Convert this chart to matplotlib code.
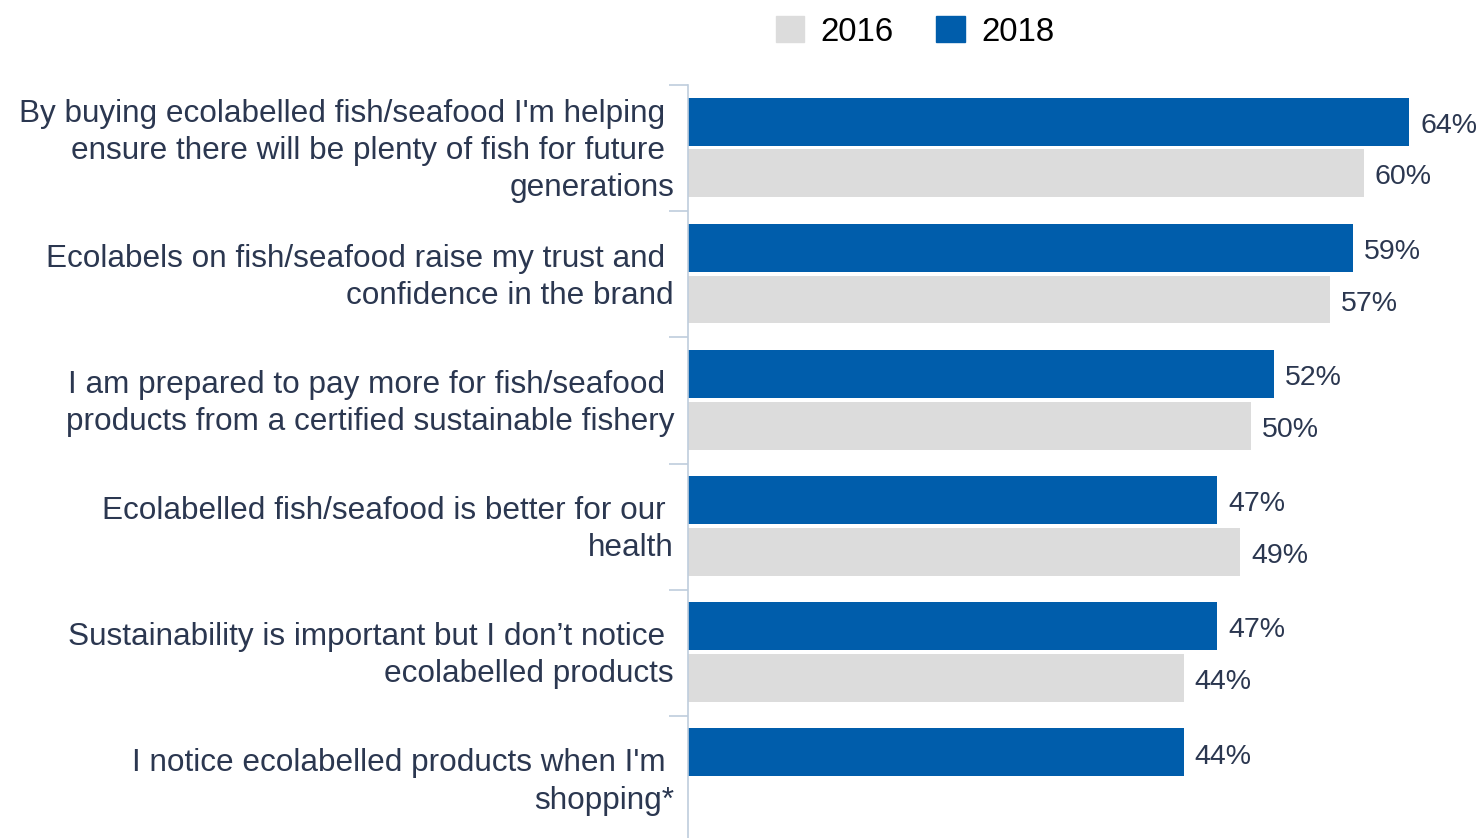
import numpy as np
import matplotlib.pyplot as plt
import matplotlib.transforms as mtransforms
from matplotlib.patches import Patch

# statements and survey shares (%), top to bottom
statements = [
    "By buying ecolabelled fish/seafood I'm helping \nensure there will be plenty of fish for future \ngenerations",
    "Ecolabels on fish/seafood raise my trust and \nconfidence in the brand",
    "I am prepared to pay more for fish/seafood \nproducts from a certified sustainable fishery",
    "Ecolabelled fish/seafood is better for our \nhealth",
    "Sustainability is important but I don\u2019t notice \necolabelled products",
    "I notice ecolabelled products when I'm \nshopping*",
]
share_2018 = [64, 59, 52, 47, 47, 44]
share_2016 = [60, 57, 50, 49, 44, np.nan]  # last statement not asked in 2016

blue = "#005dab"
grey = "#dcdcdc"
text_col = "#2b3750"
axis_col = "#bfcddd"

plt.rcParams['font.family'] = ['Liberation Sans', 'DejaVu Sans']

fig = plt.figure(figsize=(14.78, 8.38), dpi=100)
ax = fig.add_axes([688 / 1478, 0, 1 - 688 / 1478, 1 - 85 / 838])

n = len(statements)
pos = np.arange(n)
bar_h = 0.38
ax.barh(pos + 0.29, share_2018, height=bar_h, color=blue)
ax.barh(pos + 0.70, share_2016, height=bar_h, color=grey)

for i in range(n):
    ax.annotate(f"{share_2018[i]}%", (share_2018[i], pos[i] + 0.29),
                xytext=(8, -3), textcoords="offset points",
                va="center", ha="left", fontsize=20.5, color=text_col)
    if not np.isnan(share_2016[i]):
        ax.annotate(f"{share_2016[i]:.0f}%", (share_2016[i], pos[i] + 0.70),
                    xytext=(8, -3), textcoords="offset points",
                    va="center", ha="left", fontsize=20.5, color=text_col)

ax.set_xlim(0, (1478 - 689) / 11.25)
ax.set_ylim(5 + (838 - 716) / 126, 0)

# category labels in the middle of each band, ticks at the band edges
ax.set_yticks(pos + 0.5)
ax.set_yticklabels(statements, fontsize=22.7, color=text_col, linespacing=1.32)
ax.set_yticks(np.arange(n), minor=True)
ax.tick_params(axis="y", which="major", length=0, pad=10)
ax.tick_params(axis="y", which="minor", length=14, width=1.2, color=axis_col)
ax.set_xticks([])

# nudge the wrapped labels up a little so the block sits centred on the band
nudge = mtransforms.ScaledTranslation(0, 3 / 72, fig.dpi_scale_trans)
for lbl in ax.get_yticklabels():
    lbl.set_transform(lbl.get_transform() + nudge)

for side in ["top", "right", "bottom"]:
    ax.spines[side].set_visible(False)
ax.spines["left"].set_color(axis_col)
ax.spines["left"].set_linewidth(1.2)

handles = [Patch(color=grey, label="2016"), Patch(color=blue, label="2018")]
fig.legend(handles=handles, loc="center", bbox_to_anchor=(0.619, 0.962), ncol=2,
           frameon=False, fontsize=23.8, handlelength=0.85, handleheight=0.85,
           handletextpad=0.5, columnspacing=1.3)

fig.savefig("out.png", dpi=100)
